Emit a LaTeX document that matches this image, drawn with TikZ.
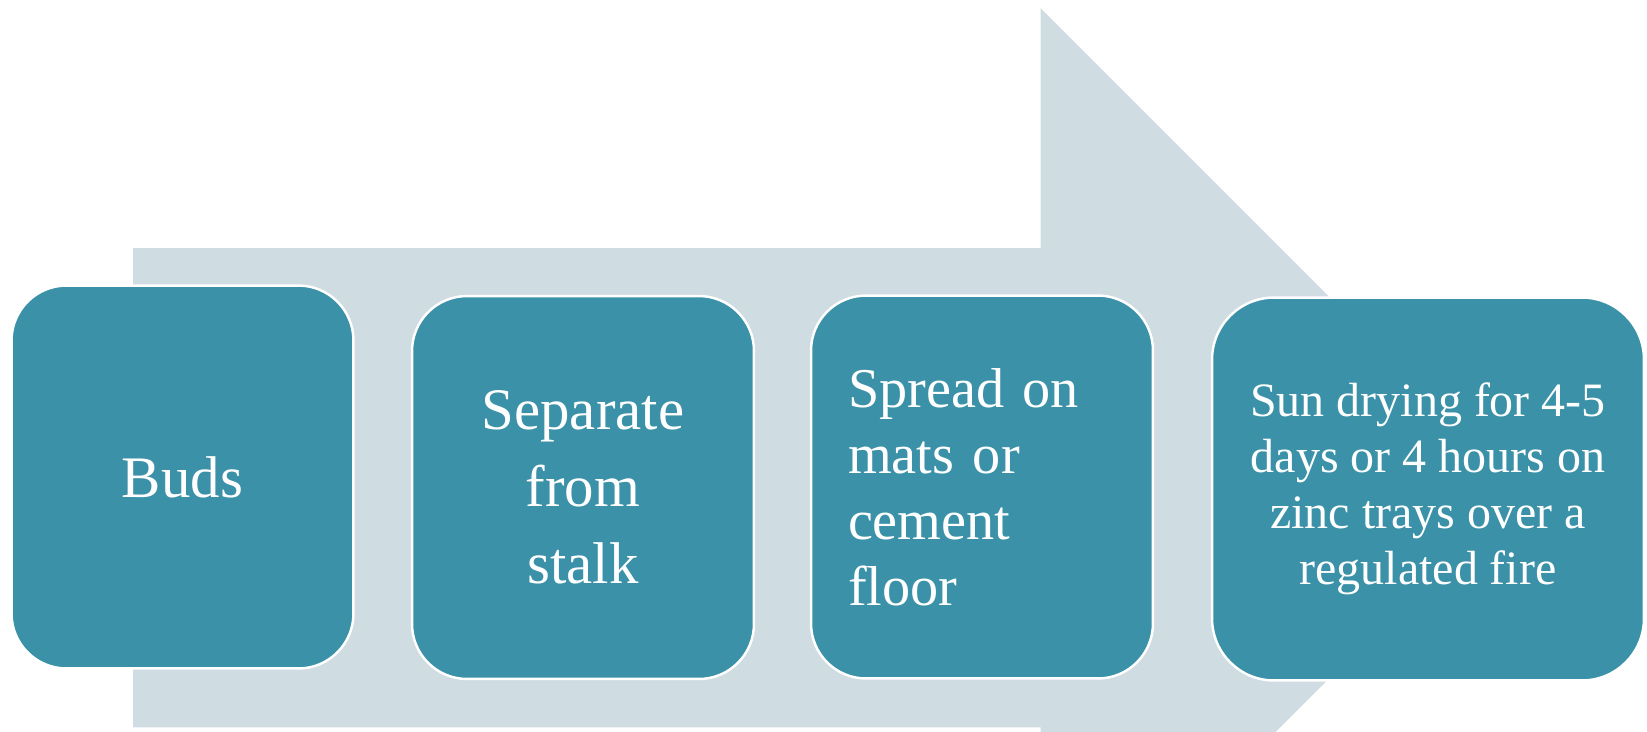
\documentclass[tikz,border=0pt]{standalone}
\usepackage{fontspec}
\setmainfont{Liberation Serif}
\usepackage{tikz}
\usetikzlibrary{positioning}
\usepackage{xcolor}
\definecolor{fteal}{HTML}{3A91A8}
\definecolor{fmist}{HTML}{CFDCE2}
\tikzset{
  stagebox/.style = {draw=white, line width=1.4pt, fill=fteal, text=white,
                     rounded corners=1.1cm, minimum width=6.84cm,
                     minimum height=7.66cm, inner sep=0pt, align=center,
                     font=\fontsize{33.5}{43.8}\selectfont},
  flowarrow/.style = {fill=fmist},
}

\begin{document}
\begin{tikzpicture}[x=0.02cm,y=-0.02cm]
\useasboundingbox (0,0) rectangle (1647,731);
% background arrow, cut at the lower edge
\begin{scope}
\clip (0,0) rectangle (1647,731);
\fill[flowarrow] (133,248) -- (1040.7,248) -- (1040.7,8.4) -- (1520,487.7)
  -- (1040.7,967) -- (1040.7,727.4) -- (133,727.4) -- cycle;
\end{scope}
\node[stagebox] (buds) at (182.5,477) {Buds};
\node[stagebox] (separate) at (583,487.5) {Separate\\from\\stalk};
\node[stagebox, align=left, text width=5.36cm, inner xsep=0.74cm,
      font=\fontsize{32}{37.6}\selectfont] (spread) at (982,487)
  {Spread on\\mats or\\cement\\floor};
\node[stagebox, minimum width=8.64cm, rounded corners=1.24cm,
      font=\fontsize{27.3}{31.9}\selectfont] (sundry) at (1428,489)
  {Sun drying for 4-5\\days or 4 hours on\\zinc trays over a\\regulated fire};
\end{tikzpicture}
\end{document}
